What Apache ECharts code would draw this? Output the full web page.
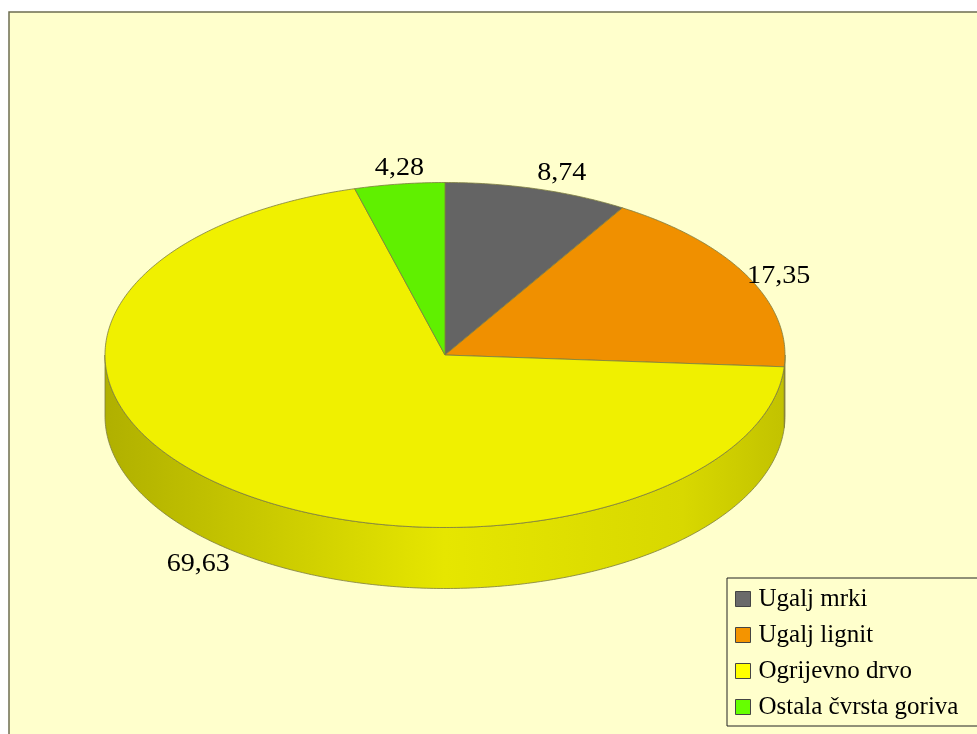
<!DOCTYPE html>
<html><head><meta charset="utf-8">
<script src="https://cdn.jsdelivr.net/npm/echarts@6/dist/echarts.min.js"></script>
<style>html,body{margin:0;padding:0;background:#fff}#c{width:977px;height:734px}</style>
</head><body><div id="c"></div>
<script>
// ---- data ----
const categories = ['Ugalj mrki', 'Ugalj lignit', 'Ogrijevno drvo', 'Ostala čvrsta goriva'];
const values = [8.74, 17.35, 69.63, 4.28];
const valueLabels = ['8,74', '17,35', '69,63', '4,28'];

// ---- styles / layout ----
const topColors = ['#646464', '#F09000', '#F0F000', '#60F000'];
const legendColors = ['#6a6a6a', '#F49400', '#FFFF00', '#66FF00'];
const sideStops = [
  ['#3a3a3a', '#5a5a5a', '#505050', '#464646'],
  ['#a86000', '#d88000', '#cc7800', '#b86c00'],
  ['#B0B000', '#E6E600', '#D8D800', '#C2C200'],
  ['#40a000', '#58d800', '#50c800', '#48b400']
];
const CX = 445, CY = 355, RX = 340, RY = 172.5, DEPTH = 61;
const EDGE = '#7c7c40';
const FONT = '"Liberation Serif", "Times New Roman", serif';

const total = values.reduce((a, b) => a + b, 0);
function pt(t, dy) { return [CX + RX * Math.sin(t), CY - RY * Math.cos(t) + (dy || 0)]; }

function makeRender(idx) {
  return function (params, api) {
    const v = api.value(0);
    let before = 0;
    for (let i = 0; i < idx; i++) before += values[i];
    const a0 = before / total * 2 * Math.PI;
    const a1 = (before + v) / total * 2 * Math.PI;
    const children = [];
    // side wall (front half only)
    const s0 = Math.max(a0, Math.PI / 2), s1 = Math.min(a1, 1.5 * Math.PI);
    if (s1 > s0) {
      const pts = [];
      const n = Math.max(2, Math.ceil((s1 - s0) / 0.01));
      for (let k = 0; k <= n; k++) pts.push(pt(s0 + (s1 - s0) * k / n));
      for (let k = n; k >= 0; k--) pts.push(pt(s0 + (s1 - s0) * k / n, DEPTH));
      const st = sideStops[idx];
      children.push({
        type: 'polygon', z2: 1, shape: { points: pts },
        style: {
          fill: { type: 'linear', x: CX - RX, y: 0, x2: CX + RX, y2: 0, global: true,
            colorStops: [{ offset: 0, color: st[0] }, { offset: 0.5, color: st[1] }, { offset: 0.85, color: st[2] }, { offset: 1, color: st[3] }] },
          stroke: EDGE, lineWidth: 0.8
        }
      });
    }
    // top face
    const tp = [[CX, CY]];
    const m2 = Math.max(2, Math.ceil((a1 - a0) / 0.01));
    for (let k = 0; k <= m2; k++) tp.push(pt(a0 + (a1 - a0) * k / m2));
    children.push({
      type: 'polygon', z2: 5, shape: { points: tp },
      style: { fill: topColors[idx], stroke: EDGE, lineWidth: 0.8 }
    });
    // label
    const mid = (a0 + a1) / 2;
    const s = Math.sin(mid), c = Math.cos(mid);
    const p = pt(mid, c < 0 ? DEPTH : 0);
    const align = Math.abs(s) < 0.2 ? 'center' : (s > 0 ? 'left' : 'right');
    let vAlign = 'middle', dy = 0;
    if (Math.abs(c) >= 0.5) { vAlign = c > 0 ? 'bottom' : 'top'; dy = c > 0 ? -3 : 2; }
    children.push({
      type: 'text', z2: 10, x: p[0], y: p[1] + dy, scaleX: 1.08,
      style: { text: valueLabels[idx], fontFamily: FONT, fontSize: 26, fill: '#000', align: align, verticalAlign: vAlign }
    });
    return { type: 'group', children: children };
  };
}

const chart = echarts.init(document.getElementById('c'), null, { renderer: 'canvas' });
chart.setOption({
  animation: false,
  backgroundColor: '#ffffff',
  graphic: [{
    type: 'rect', z: 0, shape: { x: 9, y: 12, width: 1000, height: 800 },
    style: { fill: '#FFFFCC', stroke: '#6e6e50', lineWidth: 1.5 }
  }],
  legend: {
    orient: 'vertical', left: 727, top: 578,
    data: categories,
    icon: 'rect', itemWidth: 15, itemHeight: 15, itemGap: 10,
    backgroundColor: '#FFFFCC', borderColor: '#222', borderWidth: 1,
    padding: [8, 80, 6, 8],
    itemStyle: { borderColor: '#444', borderWidth: 1 },
    textStyle: { fontFamily: FONT, fontSize: 25, color: '#000', lineHeight: 26, padding: [0, 0, 0, 3] }
  },
  series: categories.map((name, i) => ({
    type: 'custom', name: name, coordinateSystem: 'none',
    itemStyle: { color: legendColors[i] },
    data: [values[i]],
    renderItem: makeRender(i)
  }))
});
</script></body></html>
